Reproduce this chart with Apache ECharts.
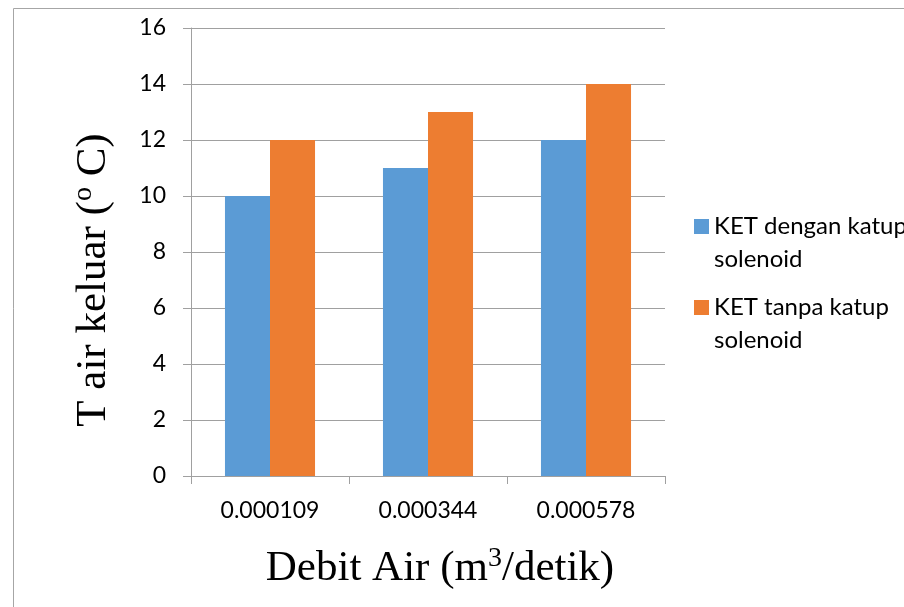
<!DOCTYPE html>
<html>
<head>
<meta charset="utf-8">
<script src="https://cdn.jsdelivr.net/npm/echarts@6/dist/echarts.min.js"></script>
<style>
html,body{margin:0;padding:0;background:#fff;}
#c{width:904px;height:607px;}
</style>
</head>
<body>
<div id="c"></div>
<script>
const categories = ['0.000109', '0.000344', '0.000578'];
const seriesNames = ['KET dengan katup\nsolenoid', 'KET tanpa katup\nsolenoid'];
const withValve = [10, 11, 12];
const withoutValve = [12, 13, 14];
const yTicks = { min: 0, max: 16, interval: 2 };

const chart = echarts.init(document.getElementById('c'), null, { renderer: 'canvas' });
const grey = '#a0a0a0';
const labelFont = 'Lato';
function legendFor(name, top) {
  return {
    orient: 'vertical',
    left: 694,
    top: top,
    padding: 0,
    itemWidth: 15,
    itemHeight: 15,
    icon: 'rect',
    formatter: (n) => '\n' + n,
    textStyle: { fontFamily: labelFont, fontSize: 24, color: '#000', lineHeight: 33 },
    data: [name]
  };
}
chart.setOption({
  animation: false,
  backgroundColor: '#ffffff',
  graphic: [{
    type: 'rect', left: 11, top: 6, z: -1,
    shape: { width: 1000, height: 700 },
    style: { fill: 'none', stroke: '#a6a6a6', lineWidth: 1 }
  }],
  grid: { left: 191, right: 239, top: 28, bottom: 131 },
  legend: [legendFor(seriesNames[0], 177), legendFor(seriesNames[1], 258)],
  xAxis: {
    type: 'category',
    data: categories,
    axisLine: { lineStyle: { color: grey, width: 1 } },
    axisTick: { show: true, length: 8, lineStyle: { color: grey } },
    axisLabel: { color: '#000', fontFamily: labelFont, fontSize: 23, margin: 23 },
    name: 'Debit Air (m{sup|3}/detik)',
    nameLocation: 'middle',
    nameGap: 69,
    nameTextStyle: {
      fontFamily: 'Liberation Serif', fontSize: 43, color: '#000', lineHeight: 48,
      padding: [0, 0, 0, 24],
      rich: { sup: { fontFamily: 'Liberation Serif', fontSize: 28, lineHeight: 48, verticalAlign: 'top', padding: [0,0,14,0] } }
    }
  },
  yAxis: {
    type: 'value',
    min: yTicks.min, max: yTicks.max, interval: yTicks.interval,
    axisLine: { show: true, lineStyle: { color: grey, width: 1 } },
    axisTick: { show: true, length: 8, lineStyle: { color: grey } },
    splitLine: { lineStyle: { color: grey, width: 1 } },
    axisLabel: { color: '#000', fontFamily: labelFont, fontSize: 23, margin: 25 },
    name: 'T air keluar ({sup|o} C)',
    nameLocation: 'middle',
    nameRotate: 90,
    nameGap: 73,
    nameTextStyle: {
      fontFamily: 'Liberation Serif', fontSize: 43, color: '#000', lineHeight: 48,
      padding: [0, 56, 0, 0],
      rich: { sup: { fontFamily: 'Liberation Serif', fontSize: 28, lineHeight: 48, verticalAlign: 'top', padding: [0,0,14,0] } }
    }
  },
  series: [
    { name: seriesNames[0], type: 'bar', data: withValve, barGap: '0%', barCategoryGap: '43%', itemStyle: { color: '#5b9bd5' } },
    { name: seriesNames[1], type: 'bar', data: withoutValve, barGap: '0%', barCategoryGap: '43%', itemStyle: { color: '#ed7d31' } }
  ]
});
</script>
</body>
</html>
